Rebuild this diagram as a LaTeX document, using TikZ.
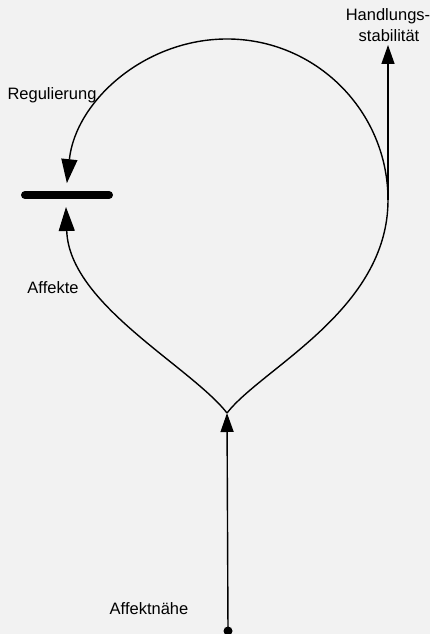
\documentclass[tikz,border=0pt]{standalone}
\usepackage{fontspec}
\setmainfont{Liberation Sans}
\usetikzlibrary{arrows.meta}
\definecolor{bgc}{HTML}{F2F2F2}
\tikzset{
  line/.style={line width=1.4pt, black},
  carr/.style={line, -{Triangle[length=24pt,width=16pt]}},
  sarr/.style={line, -{Triangle[length=19pt,width=13pt]}},
  lab/.style={font=\fontsize{16.5}{20}\selectfont, inner sep=0pt, anchor=base},
}
\begin{document}
\begin{tikzpicture}[x=1pt,y=1pt]
  \fill[bgc] (0,0) rectangle (430,634);
  \useasboundingbox (0,0) rectangle (430,634);
  % coordinates
  \coordinate (cusp) at (227,221);
  \coordinate (right) at (388,434);
  \coordinate (ltip) at (66,427);
  \coordinate (rtop) at (388,589);
  \coordinate (barL) at (25,439);
  \coordinate (barR) at (109,439);
  \node[circle, fill=black, inner sep=0pt, minimum size=9pt] (dot) at (228,3) {};
  % bar
  \draw[line width=8pt, line cap=round] (barL) -- (barR);
  % loop, right side and top
  \draw[carr] (cusp) .. controls (262,266) and (388,324) .. (right)
      arc[start angle=0, end angle=174, radius=161];
  % loop, left lower side
  \draw[carr] (cusp) .. controls (190,268) and (69,330) .. (ltip);
  % vertical lines
  \draw[sarr] (dot.center) -- (cusp);
  \draw[sarr] (right) -- (rtop);
  % labels
  \node[lab] (hl1) at (388,613) {Handlungs-};
  \node[lab] (hl2) at (389,592) {stabilität};
  \node[lab] (reg) at (52,534) {Regulierung};
  \node[lab] (aff) at (53,340) {Affekte};
  \node[lab] (affn) at (149,19) {Affektnähe};
\end{tikzpicture}
\end{document}
